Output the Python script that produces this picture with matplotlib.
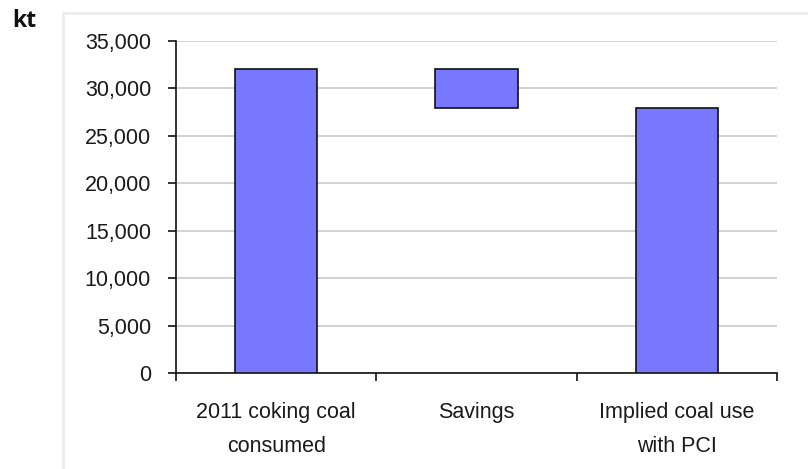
import matplotlib
matplotlib.use("Agg")
import matplotlib.pyplot as plt
from matplotlib.patches import Rectangle
from matplotlib.ticker import FuncFormatter, MultipleLocator

categories = ["2011 coking coal\nconsumed", "Savings", "Implied coal use\nwith PCI"]
bar_bottoms = [0, 27900, 0]
bar_heights = [32000, 4100, 27900]
unit_label = "kt"

plt.rcParams['font.family'] = ['Liberation Sans', 'DejaVu Sans']

fig = plt.figure(figsize=(8.08, 4.69), dpi=100)
# light gray frame
fig.patches.append(Rectangle((63/808, -0.05), 1.0, 1 - 13/469 + 0.05,
                             transform=fig.transFigure, fill=False,
                             edgecolor='#ececec', linewidth=2))

ax = fig.add_axes([176/808, 1 - 373/469, (777-176)/808, (373-41)/469])
x = range(len(categories))
ax.bar(x, bar_heights, bottom=bar_bottoms, width=0.41, color='#7878ff',
       edgecolor='#111111', linewidth=1.2, zorder=3)

ax.set_xlim(-0.5, 2.5)
ax.set_ylim(0, 35000)
ax.yaxis.set_major_locator(MultipleLocator(5000))
ax.yaxis.set_major_formatter(FuncFormatter(lambda v, p: f"{int(v):,}"))
ax.grid(axis='y', color='#cfcfcf', linewidth=1.3, zorder=0)
ax.set_axisbelow(True)

ax.set_xticks([-0.5, 0.5, 1.5, 2.5])
ax.set_xticklabels([])
ax.set_xticks(list(x), minor=True)
ax.set_xticklabels(categories, minor=True, linespacing=1.8)
ax.tick_params(axis='x', which='major', direction='out', length=6, width=1.2, color='#111111')
ax.tick_params(axis='x', which='minor', length=0, pad=21, labelsize=15.5, labelcolor='#1a1a1a')
ax.tick_params(axis='y', direction='out', length=6, width=1.2, color='#111111',
               pad=12, labelsize=15.5, labelcolor='#1a1a1a')

for s in ['top', 'right']:
    ax.spines[s].set_visible(False)
for s in ['left', 'bottom']:
    ax.spines[s].set_color('#111111')
    ax.spines[s].set_linewidth(1.2)

fig.text(12/808, 1 - 21/469, unit_label, fontsize=16.5, fontweight='bold',
         family=['Open Sans', 'DejaVu Sans'], va='center', ha='left', color='#111111')

fig.savefig("out.png", dpi=100)
